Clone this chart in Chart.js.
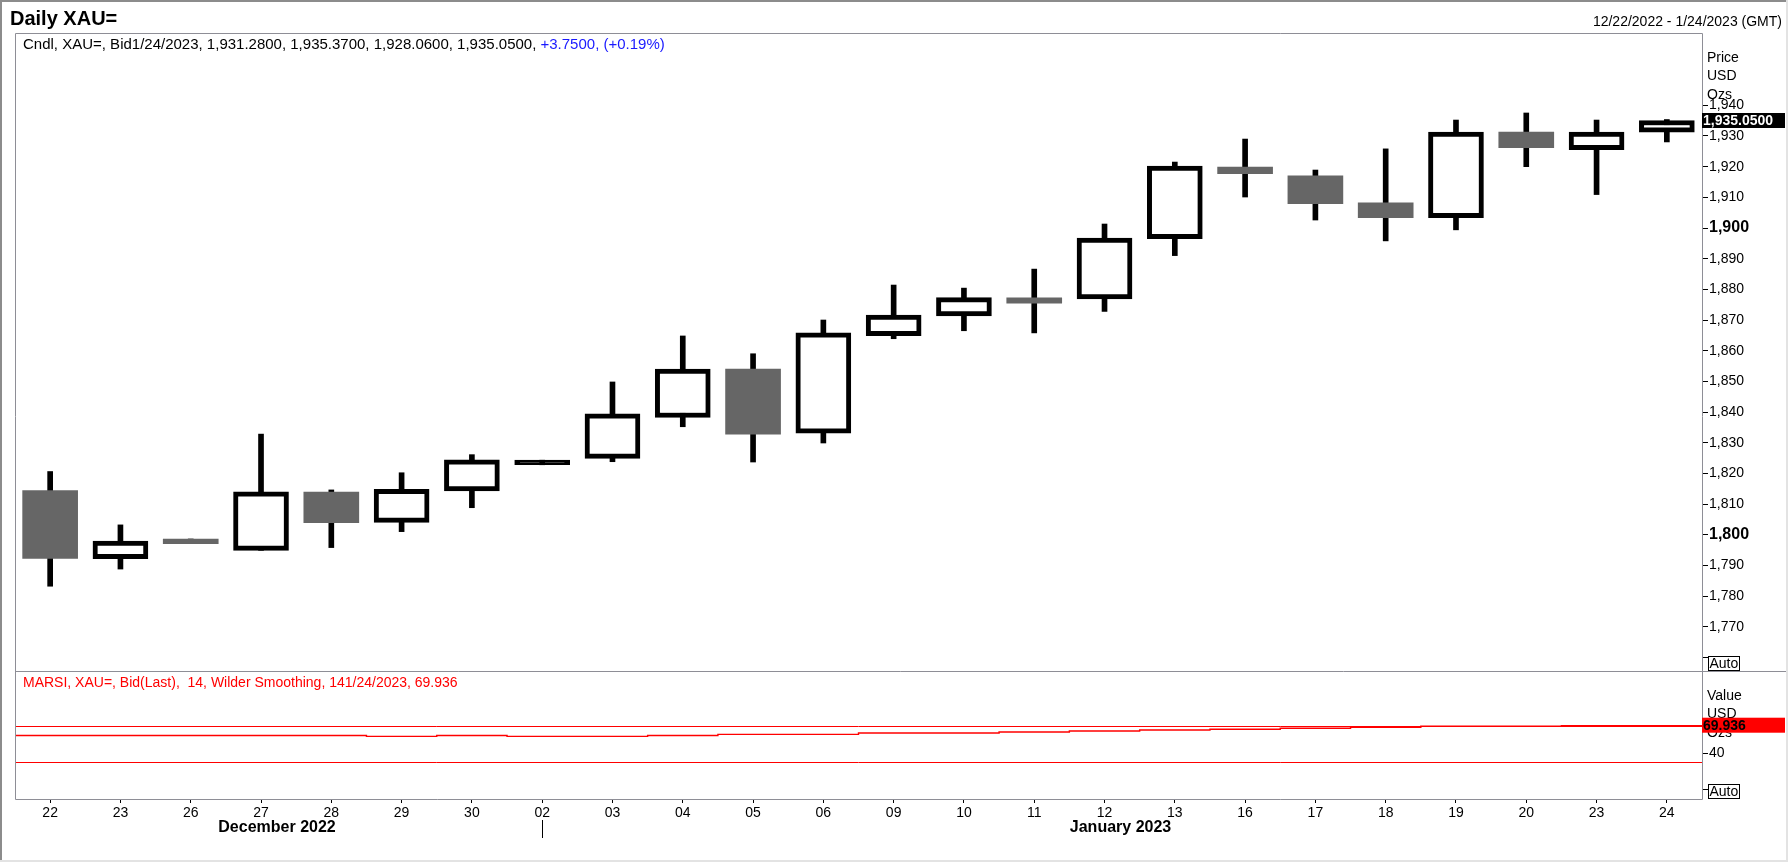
<!DOCTYPE html>
<html>
<head>
<meta charset="utf-8">
<title>Daily XAU=</title>
<script src="https://cdn.jsdelivr.net/npm/chart.js@4.4.1/dist/chart.umd.min.js"></script>
<style>
    html, body { margin: 0; padding: 0; background: #ffffff; }
    #wrap { position: relative; width: 1788px; height: 862px; }
</style>
</head>
<body>
<div id="wrap"><canvas id="xauChart" width="1788" height="862"></canvas></div>
<script>
// trading days shown on the axis
const dayLabels = ['22', '23', '26', '27', '28', '29', '30', '02', '03', '04', '05', '06',
    '09', '10', '11', '12', '13', '16', '17', '18', '19', '20', '23', '24'];
const monthLabels = ['December 2022', 'January 2023'];
const monthStarts = [0, 7];

// daily candles, XAU= bid
const openPrices = [1814.4, 1792.2, 1798.6, 1794.9, 1813.9, 1804.0, 1814.3, 1822.8, 1824.9, 1838.2, 1854.0, 1833.1,
    1864.9, 1871.3, 1877.2, 1876.9, 1896.5, 1919.9, 1917.0, 1908.2, 1903.4, 1931.3, 1925.5, 1931.28];
const highPrices = [1820.6, 1803.2, 1798.6, 1832.8, 1814.6, 1820.2, 1826.1, 1824.3, 1849.8, 1864.8, 1859.0, 1870.0,
    1881.4, 1880.4, 1886.6, 1901.3, 1921.5, 1929.0, 1918.9, 1925.8, 1935.2, 1937.5, 1935.2, 1935.37];
const lowPrices = [1783.2, 1788.8, 1797.1, 1794.9, 1795.8, 1801.0, 1808.8, 1822.8, 1823.8, 1835.2, 1823.7, 1829.9,
    1863.9, 1866.5, 1865.8, 1872.8, 1891.0, 1910.1, 1902.6, 1895.8, 1899.4, 1920.0, 1910.9, 1928.06];
const closePrices = [1792.3, 1797.9, 1797.1, 1814.0, 1803.9, 1814.8, 1824.4, 1824.3, 1839.4, 1854.0, 1832.8, 1865.8,
    1871.6, 1877.3, 1875.5, 1896.7, 1920.2, 1917.7, 1907.9, 1903.4, 1931.3, 1926.2, 1931.30, 1935.05];

// MARSI 14, Wilder smoothing
const rsiValues = [59.2, 59.2, 59.2, 59.2, 59.2, 58.3, 59.2, 58.3, 58.3, 59.2, 60.5, 60.5,
    61.9, 61.9, 63.0, 64.1, 65.2, 66.0, 67.1, 68.2, 69.4, 69.4, 69.9, 69.936];
const rsiLevels = [70, 30];

const priceTicks = [1760, 1770, 1780, 1790, 1800, 1810, 1820, 1830, 1840, 1850, 1860, 1870, 1880,
    1890, 1900, 1910, 1920, 1930, 1940];
const rsiTicks = [0, 40];

const lastDateText = '1/24/2023';
const rangeText = '12/22/2022 - 1/24/2023 (GMT)';

const FONT = "'Liberation Sans', Arial, Helvetica, sans-serif";
const UP_FILL = '#ffffff';
const DOWN_FILL = '#666666';
const EDGE = '#000000';
const PANE_LINE = '#8e8e96';
const RSI_RED = '#ff0000';
const CHANGE_BLUE = '#1a1aff';

Chart.defaults.font.family = FONT;

function isUp(i) {
    return closePrices[i] >= openPrices[i];
}

// a rising body too thin to show its hollow centre is drawn solid
function bodyFill(i) {
    if (!isUp(i)) {
        return DOWN_FILL;
    }
    return Math.abs(closePrices[i] - openPrices[i]) < 2 ? EDGE : UP_FILL;
}

function fmt(v, digits) {
    return v.toLocaleString('en-US', { minimumFractionDigits: digits, maximumFractionDigits: digits });
}

function crisp(v) {
    return Math.round(v) + 0.5;
}

// step line runs across each day's whole slot
const rsiPoints = rsiValues.map((v, i) => ({ x: i, y: v }))
    .concat([{ x: rsiValues.length, y: rsiValues[rsiValues.length - 1] }]);

const chartDecor = {
    id: 'chartDecor',
    beforeDatasetsDraw(chart) {
        const { ctx, chartArea } = chart;
        const rsiAxis = chart.scales.y2;
        ctx.save();
        ctx.strokeStyle = RSI_RED;
        ctx.lineWidth = 1;
        rsiLevels.forEach(level => {
            const y = crisp(rsiAxis.getPixelForValue(level));
            ctx.beginPath();
            ctx.moveTo(chartArea.left, y);
            ctx.lineTo(chartArea.right, y);
            ctx.stroke();
        });
        ctx.restore();
    },
    afterDraw(chart) {
        const { ctx, chartArea: area, scales } = chart;
        const priceAxis = scales.y;
        const rsiAxis = scales.y2;
        const dayAxis = scales.x;
        const last = closePrices.length - 1;

        ctx.save();

        // window frame
        ctx.fillStyle = '#8c8c8c';
        ctx.fillRect(0, 0, chart.width, 2);
        ctx.fillRect(0, 0, 2, chart.height);
        ctx.fillStyle = '#e3e3e3';
        ctx.fillRect(chart.width - 2, 0, 2, chart.height);
        ctx.fillRect(0, chart.height - 2, chart.width, 2);

        // pane outlines
        const L = crisp(area.left), R = crisp(area.right);
        const T = crisp(priceAxis.top), M = crisp(rsiAxis.top), B = crisp(rsiAxis.bottom);
        ctx.strokeStyle = PANE_LINE;
        ctx.lineWidth = 1;
        ctx.beginPath();
        ctx.moveTo(L, T); ctx.lineTo(R, T);
        ctx.moveTo(L, T); ctx.lineTo(L, B); ctx.lineTo(R, B);
        ctx.moveTo(R, T); ctx.lineTo(R, B);
        ctx.moveTo(L, M); ctx.lineTo(chart.width - 2, M);
        ctx.stroke();

        // title + range
        ctx.fillStyle = '#000';
        ctx.textBaseline = 'alphabetic';
        ctx.textAlign = 'left';
        ctx.font = `bold 20px ${FONT}`;
        ctx.fillText('Daily XAU=', 10, 25);
        ctx.font = `14px ${FONT}`;
        ctx.textAlign = 'right';
        ctx.fillText(rangeText, 1782, 26);

        // pane legends
        ctx.textAlign = 'left';
        const change = closePrices[last] - closePrices[last - 1];
        const pct = change / closePrices[last - 1] * 100;
        const ohlcText = `Cndl, XAU=, Bid${lastDateText}, ${fmt(openPrices[last], 4)}, ${fmt(highPrices[last], 4)}, ` +
            `${fmt(lowPrices[last], 4)}, ${fmt(closePrices[last], 4)}, `;
        const sign = change >= 0 ? '+' : '';
        const changeText = `${sign}${fmt(change, 4)}, (${sign}${pct.toFixed(2)}%)`;
        const legendX = area.left + 8;
        ctx.font = `15px ${FONT}`;
        ctx.fillText(ohlcText, legendX, priceAxis.top + 16);
        ctx.fillStyle = CHANGE_BLUE;
        ctx.fillText(changeText, legendX + ctx.measureText(ohlcText).width, priceAxis.top + 16);
        ctx.font = `14px ${FONT}`;
        ctx.fillStyle = RSI_RED;
        ctx.fillText(`MARSI, XAU=, Bid(Last),  14, Wilder Smoothing, 14${lastDateText}, ${rsiValues[last].toFixed(3)}`,
            legendX, rsiAxis.top + 16);

        // axis unit captions
        ctx.fillStyle = '#000';
        ctx.textBaseline = 'middle';
        [['Price', 'USD', 'Ozs'], ['Value', 'USD', 'Ozs']].forEach((lines, p) => {
            const top = p === 0 ? priceAxis.top : rsiAxis.top;
            lines.forEach((txt, k) => ctx.fillText(txt, area.right + 5, top + 25 + k * 18.5));
        });

        // Auto buttons
        [priceAxis, rsiAxis].forEach(axis => {
            const bx = area.right + 6, by = Math.round(axis.bottom) - 15;
            ctx.fillStyle = '#fff';
            ctx.fillRect(bx, by, 31, 14);
            ctx.strokeStyle = '#000';
            ctx.strokeRect(bx + 0.5, by + 0.5, 31, 14);
            ctx.fillStyle = '#000';
            ctx.font = `14px ${FONT}`;
            ctx.fillText('Auto', bx + 1.5, by + 8);
        });

        // last value tags
        ctx.font = `bold 14px ${FONT}`;
        const py = priceAxis.getPixelForValue(closePrices[last]);
        ctx.fillStyle = '#000';
        ctx.fillRect(area.right, py - 7.5, 83, 15);
        ctx.fillStyle = '#fff';
        ctx.fillText(fmt(closePrices[last], 4), area.right + 1, py + 0.5);
        const ry = rsiAxis.getPixelForValue(rsiValues[last]);
        ctx.fillStyle = RSI_RED;
        ctx.fillRect(area.right, ry - 8, 83, 15);
        ctx.fillStyle = '#000';
        ctx.fillText(rsiValues[last].toFixed(3), area.right + 1, ry);

        // month captions and separator
        ctx.font = `bold 16px ${FONT}`;
        ctx.textAlign = 'center';
        monthLabels.forEach((label, m) => {
            const first = monthStarts[m];
            const lastIdx = (m + 1 < monthStarts.length ? monthStarts[m + 1] : dayLabels.length) - 1;
            const mid = (dayAxis.getPixelForValue(first) + dayAxis.getPixelForValue(lastIdx)) / 2 + 16;
            ctx.fillText(label, mid, area.bottom + 29);
        });
        ctx.strokeStyle = '#000';
        monthStarts.slice(1).forEach(start => {
            const sx = crisp(dayAxis.getPixelForValue(start));
            ctx.beginPath();
            ctx.moveTo(sx, area.bottom + 21);
            ctx.lineTo(sx, area.bottom + 39);
            ctx.stroke();
        });

        ctx.restore();
    }
};

const tickFont = { family: FONT, size: 14 };
const boldTickFont = { family: FONT, size: 16, weight: 'bold' };

new Chart(document.getElementById('xauChart'), {
    type: 'bar',
    data: {
        labels: dayLabels,
        datasets: [{
            label: 'Body',
            data: dayLabels.map((d, i) => [openPrices[i], closePrices[i]]),
            xAxisID: 'x',
            yAxisID: 'y',
            grouped: false,
            barThickness: 55,
            backgroundColor: ctx => bodyFill(ctx.dataIndex),
            borderColor: EDGE,
            borderWidth: ctx => isUp(ctx.dataIndex) ? 5 : 0,
            borderSkipped: false,
            order: 0
        }, {
            label: 'Wick',
            data: dayLabels.map((d, i) => [lowPrices[i], highPrices[i]]),
            xAxisID: 'x',
            yAxisID: 'y',
            grouped: false,
            barThickness: 5,
            backgroundColor: EDGE,
            borderWidth: 0,
            order: 1
        }, {
            type: 'line',
            label: 'MARSI',
            data: rsiPoints,
            xAxisID: 'xr',
            yAxisID: 'y2',
            borderColor: RSI_RED,
            borderWidth: 1.4,
            pointRadius: 0,
            stepped: true,
            fill: false,
            order: 2
        }]
    },
    options: {
        responsive: false,
        animation: false,
        devicePixelRatio: 1,
        layout: {
            padding: { top: 33, left: 15, right: 0, bottom: 0 }
        },
        plugins: {
            legend: { display: false },
            tooltip: { enabled: false }
        },
        scales: {
            x: {
                type: 'category',
                position: 'bottom',
                offset: true,
                grid: {
                    offset: false,
                    drawOnChartArea: false,
                    tickLength: 4,
                    tickColor: '#000'
                },
                border: { display: false },
                ticks: {
                    color: '#000',
                    font: tickFont,
                    maxRotation: 0,
                    autoSkip: false,
                    padding: 2
                },
                afterFit: scale => { scale.height = 63; }
            },
            xr: {
                type: 'linear',
                display: false,
                offset: false,
                grid: { offset: false },
                min: 0,
                max: dayLabels.length
            },
            y: {
                type: 'linear',
                position: 'right',
                stack: 'panes',
                stackWeight: 638,
                min: 1755.56,
                max: 1963.58,
                grid: {
                    drawOnChartArea: false,
                    tickLength: 6,
                    tickColor: '#000'
                },
                border: { display: false },
                afterBuildTicks: scale => {
                    scale.ticks = priceTicks.map(v => ({ value: v }));
                },
                ticks: {
                    color: '#000',
                    padding: 1,
                    autoSkip: false,
                    font: ctx => (ctx.tick && ctx.tick.value % 100 === 0) ? boldTickFont : tickFont,
                    callback: value => value === priceTicks[0] ? '' : fmt(value, 0)
                },
                afterFit: scale => { scale.width = 86; }
            },
            y2: {
                type: 'linear',
                position: 'right',
                stack: 'panes',
                stackWeight: 128,
                min: -10,
                max: 129.6,
                grid: {
                    drawOnChartArea: false,
                    tickLength: 6,
                    tickColor: '#000'
                },
                border: { display: false },
                afterBuildTicks: scale => {
                    scale.ticks = rsiTicks.map(v => ({ value: v }));
                },
                ticks: {
                    color: '#000',
                    padding: 1,
                    autoSkip: false,
                    font: tickFont,
                    callback: value => value === rsiTicks[0] ? '' : String(value)
                },
                afterFit: scale => { scale.width = 86; }
            }
        }
    },
    plugins: [chartDecor]
});
</script>
</body>
</html>
